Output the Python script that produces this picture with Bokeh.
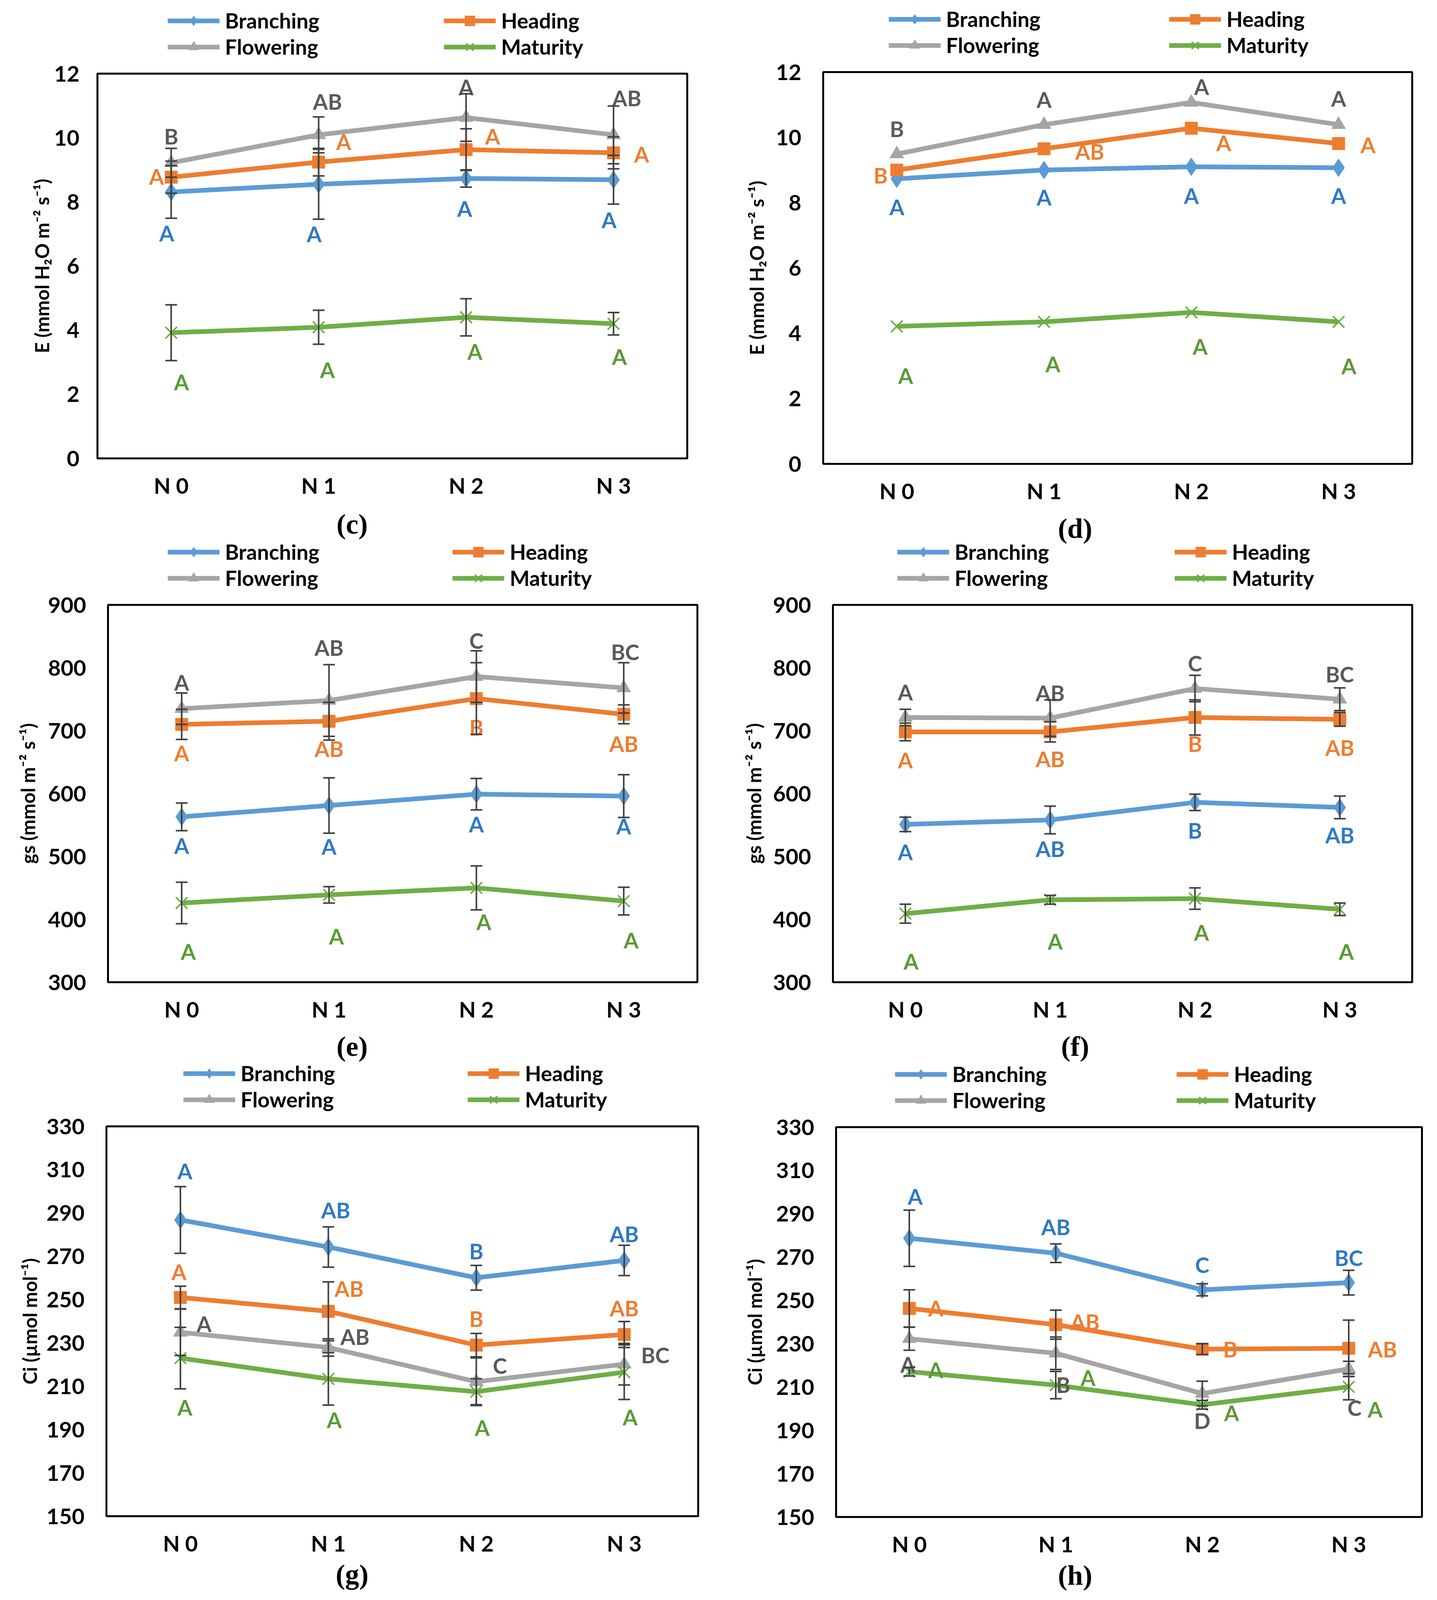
from bokeh.plotting import figure
from bokeh.models import (ColumnDataSource, Whisker, TeeHead, Legend, LegendItem,
                          Label, FixedTicker, Range1d)
from bokeh.layouts import column, row
from bokeh.embed import file_html
from bokeh.resources import INLINE
from bokeh.core.properties import value

# ---------------- data ----------------
categories = ["N 0", "N 1", "N 2", "N 3"]
series_names = ["Branching", "Heading", "Flowering", "Maturity"]

# (c) E, first season
c_branching = [8.31, 8.55, 8.73, 8.69]
c_heading = [8.77, 9.24, 9.63, 9.53]
c_flowering = [9.22, 10.09, 10.63, 10.09]
c_maturity = [3.92, 4.09, 4.40, 4.20]
c_branching_sd = [0.82, 1.09, 0.27, 0.76]
c_heading_sd = [0.50, 0.43, 0.65, 0.50]
c_flowering_sd = [0.45, 0.56, 0.74, 0.90]
c_maturity_sd = [0.87, 0.53, 0.58, 0.35]
c_letters = {"Branching": ["A", "A", "A", "A"], "Heading": ["A", "A", "A", "A"],
             "Flowering": ["B", "AB", "A", "AB"], "Maturity": ["A", "A", "A", "A"]}

# (d) E, second season
d_branching = [8.73, 9.00, 9.10, 9.07]
d_heading = [9.00, 9.65, 10.28, 9.81]
d_flowering = [9.49, 10.39, 11.07, 10.39]
d_maturity = [4.21, 4.35, 4.64, 4.35]
d_letters = {"Branching": ["A", "A", "A", "A"], "Heading": ["B", "AB", "A", "A"],
             "Flowering": ["B", "A", "A", "A"], "Maturity": ["A", "A", "A", "A"]}

# (e) gs, first season
e_branching = [563, 581, 599, 596]
e_heading = [710, 715, 751, 726]
e_flowering = [735, 748, 786, 768]
e_maturity = [426, 439, 450, 429]
e_branching_sd = [22, 44, 25, 34]
e_heading_sd = [24, 30, 57, 15]
e_flowering_sd = [25, 57, 41, 40]
e_maturity_sd = [33, 13, 35, 22]
e_letters = {"Branching": ["A", "A", "A", "A"], "Heading": ["A", "AB", "B", "AB"],
             "Flowering": ["A", "AB", "C", "BC"], "Maturity": ["A", "A", "A", "A"]}

# (f) gs, second season
f_branching = [551, 558, 586, 578]
f_heading = [698, 698, 721, 718]
f_flowering = [721, 720, 767, 750]
f_maturity = [409, 431, 433, 416]
f_branching_sd = [11.5, 22, 13, 18]
f_heading_sd = [14, 16, 28, 11]
f_flowering_sd = [13, 29, 21, 18]
f_maturity_sd = [15, 7, 17, 10]
f_letters = {"Branching": ["A", "AB", "B", "AB"], "Heading": ["A", "AB", "B", "AB"],
             "Flowering": ["A", "AB", "C", "BC"], "Maturity": ["A", "A", "A", "A"]}

# (g) Ci, first season
g_branching = [286.8, 274.3, 260.1, 268.1]
g_heading = [251.0, 244.6, 229.0, 233.9]
g_flowering = [234.9, 227.9, 212.1, 220.2]
g_maturity = [223.0, 213.4, 207.5, 216.5]
g_branching_sd = [15.4, 9.3, 5.7, 7.0]
g_heading_sd = [5.2, 13.6, 5.4, 6.0]
g_flowering_sd = [10.7, 4.0, 11.0, 9.6]
g_maturity_sd = [14.2, 12.1, 6.0, 12.6]
g_letters = {"Branching": ["A", "AB", "B", "AB"], "Heading": ["A", "AB", "B", "AB"],
             "Flowering": ["A", "AB", "C", "BC"], "Maturity": ["A", "A", "A", "A"]}

# (h) Ci, second season
h_branching = [278.7, 271.8, 254.9, 258.2]
h_heading = [246.3, 238.8, 227.5, 227.9]
h_flowering = [232.3, 225.6, 207.0, 218.4]
h_maturity = [217.1, 210.9, 201.8, 210.1]
h_branching_sd = [13.0, 4.3, 2.8, 5.7]
h_heading_sd = [8.6, 6.7, 2.5, 13.0]
h_flowering_sd = [5.3, 7.5, 5.7, 3.5]
h_maturity_sd = [2.0, 6.3, 2.0, 6.0]
h_letters = {"Branching": ["A", "AB", "C", "BC"], "Heading": ["A", "AB", "B", "AB"],
             "Flowering": ["A", "B", "D", "C"], "Maturity": ["A", "A", "A", "A"]}

# ---------------- placement of the significance letters ----------------
c_letter_y = {"Branching": [7.02, 7.0, 7.79, 7.44], "Heading": [8.79, 9.87, 10.04, 9.49],
              "Flowering": [10.04, 11.13, 11.58, 11.24], "Maturity": [2.38, 2.76, 3.33, 3.17]}
c_letter_dx = {"Branching": [-0.03, -0.03, -0.01, -0.03], "Heading": [-0.10, 0.17, 0.18, 0.19],
               "Flowering": [0, 0.06, 0, 0.09], "Maturity": [0.07, 0.06, 0.06, 0.04]}
d_letter_y = {"Branching": [7.87, 8.16, 8.21, 8.21], "Heading": [8.83, 9.57, 9.83, 9.77],
              "Flowering": [10.26, 11.16, 11.55, 11.19], "Maturity": [2.70, 3.06, 3.59, 3.00]}
d_letter_dx = {"Branching": [0, 0, 0, 0], "Heading": [-0.11, 0.31, 0.22, 0.20],
               "Flowering": [0, 0, 0.07, 0], "Maturity": [0.06, 0.06, 0.06, 0.07]}
e_letter_y = {"Branching": [517, 516, 551, 548], "Heading": [664, 671, 705, 679],
              "Flowering": [777, 832, 843, 825], "Maturity": [349, 373, 396, 367]}
e_letter_dx = {"Branching": [0, 0, 0, 0], "Heading": [0, 0, 0, 0],
               "Flowering": [0, 0, 0, 0.01], "Maturity": [0.045, 0.05, 0.05, 0.05]}
f_letter_y = {"Branching": [507, 512, 541, 534], "Heading": [653, 655, 679, 673],
              "Flowering": [761, 760, 807, 790], "Maturity": [333, 365, 379, 349]}
f_letter_dx = {"Branching": [0, 0, 0, 0], "Heading": [0, 0, 0, 0],
               "Flowering": [0, 0, 0, 0], "Maturity": [0.04, 0.035, 0.045, 0.045]}
g_letter_y = {"Branching": [309.3, 291.4, 272.3, 280.3], "Heading": [262.9, 255.1, 241.2, 246.1],
              "Flowering": [238.8, 232.8, 219.6, 224.4], "Maturity": [200.2, 194.5, 190.9, 195.8]}
g_letter_dx = {"Branching": [0.03, 0.05, 0, 0], "Heading": [-0.01, 0.14, 0, 0],
               "Flowering": [0.16, 0.18, 0.16, 0.21], "Maturity": [0.03, 0.04, 0.04, 0.04]}
h_letter_y = {"Branching": [297.9, 283.9, 266.5, 269.7], "Heading": [246.4, 240.1, 227.4, 227.4],
              "Flowering": [220.5, 211.1, 194.5, 200.5], "Maturity": [217.9, 214.3, 198.0, 199.7]}
h_letter_dx = {"Branching": [0.04, 0, 0, 0], "Heading": [0.18, 0.20, 0.19, 0.23],
               "Flowering": [-0.01, 0.05, 0, 0.04], "Maturity": [0.18, 0.22, 0.20, 0.18]}

# ---------------- styles ----------------
FONT = "Lato"
line_colors = {"Branching": "#5B9BD5", "Heading": "#ED7D31", "Flowering": "#A5A5A5", "Maturity": "#70AD47"}
letter_colors = {"Branching": "#2F78C4", "Heading": "#ED7D31", "Flowering": "#595959", "Maturity": "#5A9A36"}
marker_style = {"Branching": ("diamond", 46), "Heading": ("square", 32),
                "Flowering": ("triangle", 36), "Maturity": ("x", 42)}
ERR_COLOR = "#404040"
LINE_W = 12
TOP_PAD = 35          # room above the frame for the top tick label
xs = [1, 2, 3, 4]


def add_series(p, name, x, y):
    lr = p.line(x, y, line_color=line_colors[name], line_width=LINE_W)
    mk, sz = marker_style[name]
    if mk == "x":
        sr = p.scatter(x, y, marker=mk, size=sz, line_color=line_colors[name], line_width=4)
    else:
        sr = p.scatter(x, y, marker=mk, size=sz, fill_color=line_colors[name],
                       line_color=line_colors[name], line_width=1)
    return [lr, sr]


def blank_strip(width, height):
    s = figure(width=width, height=height, output_backend="svg", toolbar_location=None,
               x_range=Range1d(-20, -19), y_range=Range1d(-20, -19),
               x_axis_type=None, y_axis_type=None, min_border=0)
    s.outline_line_color = None
    s.xgrid.visible = False
    s.ygrid.visible = False
    s.background_fill_color = "white"
    s.border_fill_color = "white"
    return s


def make_legend_strip(width, height, vals, vx1, vx2):
    # the same series are drawn here but fall outside this strip's ranges;
    # the strip only shows their legend (its frame is aligned with the plot's frame)
    s = blank_strip(width, height)
    rends = {n: add_series(s, n, xs, vals[n]) for n in series_names}
    for names, vx in ((["Branching", "Flowering"], vx1), (["Heading", "Maturity"], vx2)):
        leg = Legend(items=[LegendItem(label=n, renderers=rends[n]) for n in names],
                     location=(vx, 1), orientation="vertical", glyph_width=133, glyph_height=64,
                     label_height=64, label_standoff=14, spacing=2, padding=0, margin=0,
                     border_line_color=None, background_fill_alpha=0,
                     label_text_font=FONT, label_text_font_style="bold",
                     label_text_font_size="54px", label_text_color="black")
        s.add_layout(leg)
    return s


def make_caption_strip(width, height, text, cx, cy):
    s = blank_strip(width, height)
    s.add_layout(Label(x=cx, y=cy, x_units="screen", y_units="screen", text=text,
                       text_align="center", text_baseline="middle",
                       text_font="Liberation Serif", text_font_style="bold",
                       text_font_size="72px", text_color="black"))
    return s


def make_panel(width, borders, frame_h, legend_h, bottom_axis, caption_h, vals, sds, letters,
               letter_y, letter_dx, yr, yticks, legend_pos, ylabel, tick_standoff,
               ylabel_standoff, caption, caption_pos):
    left, right = borders
    p = figure(width=width, height=TOP_PAD + frame_h + bottom_axis, output_backend="svg",
               toolbar_location=None,
               x_range=Range1d(0.5, 4.5), y_range=Range1d(*yr),
               min_border_left=left, min_border_right=right,
               min_border_top=TOP_PAD, min_border_bottom=bottom_axis)
    p.background_fill_color = "white"
    p.border_fill_color = "white"
    p.outline_line_color = "black"
    p.outline_line_width = 5
    p.xgrid.visible = False
    p.ygrid.visible = False
    for ax in (p.xaxis, p.yaxis):
        ax.axis_line_color = None
        ax.major_tick_line_color = None
        ax.minor_tick_line_color = None
        ax.major_label_text_font = FONT
        ax.major_label_text_font_style = "bold"
        ax.major_label_text_font_size = "56px"
        ax.major_label_text_color = "black"
    p.xaxis.ticker = FixedTicker(ticks=xs)
    p.xaxis.major_label_overrides = {x: c for x, c in zip(xs, categories)}
    p.xaxis.major_label_standoff = 29
    p.yaxis.ticker = FixedTicker(ticks=yticks)
    p.yaxis.major_label_standoff = tick_standoff
    p.yaxis.axis_label = ylabel
    p.yaxis.axis_label_text_font = FONT
    p.yaxis.axis_label_text_font_style = "bold"
    p.yaxis.axis_label_text_font_size = "49px"
    p.yaxis.axis_label_text_color = "black"
    p.yaxis.axis_label_standoff = ylabel_standoff

    for name in series_names:
        v = vals[name]
        if sds is not None:
            sd = sds[name]
            src = ColumnDataSource(dict(x=xs, lower=[a - b for a, b in zip(v, sd)],
                                        upper=[a + b for a, b in zip(v, sd)]))
            w = Whisker(source=src, base="x", lower="lower", upper="upper", dimension="height",
                        line_color=ERR_COLOR, line_width=4, level="glyph",
                        upper_head=TeeHead(size=30, line_color=ERR_COLOR, line_width=4),
                        lower_head=TeeHead(size=30, line_color=ERR_COLOR, line_width=4))
            p.add_layout(w)
        add_series(p, name, xs, v)

    for name in series_names:
        src = ColumnDataSource(dict(x=[a + b for a, b in zip(xs, letter_dx[name])],
                                    y=letter_y[name], t=letters[name]))
        p.text(x="x", y="y", text="t", source=src, text_align="center", text_baseline="middle",
               text_font=value(FONT), text_font_style="bold", text_font_size="55px",
               text_color=letter_colors[name])

    top_strip = make_legend_strip(width, legend_h, vals, *legend_pos)
    bottom_strip = make_caption_strip(width, caption_h, caption, *caption_pos)
    return column(top_strip, p, bottom_strip, spacing=0)


def d4(b, h, f, m):
    return {"Branching": b, "Heading": h, "Flowering": f, "Maturity": m}


E_ticks = [0, 2, 4, 6, 8, 10, 12]
gs_ticks = [300, 400, 500, 600, 700, 800, 900]
ci_ticks = [150, 170, 190, 210, 230, 250, 270, 290, 310, 330]
E_label = "E (mmol H\u2082O m\u207b\u00b2 s\u207b\u00b9)"
gs_label = "gs (mmol m\u207b\u00b2 s\u207b\u00b9)"
ci_label = "Ci (\u00b5mol mol\u207b\u00b9)"

# legend strip height = distance from the panel top to TOP_PAD above the frame
pc = make_panel(1832, (249, 73), 985, 188 - TOP_PAD, 120, 92,
                d4(c_branching, c_heading, c_flowering, c_maturity),
                d4(c_branching_sd, c_heading_sd, c_flowering_sd, c_maturity_sd),
                c_letters, c_letter_y, c_letter_dx, (0, 12), E_ticks,
                (180, 887), E_label, 40, 0, "(c)", (652, 44))
pd = make_panel(1825, (275, 42), 1003, 184 - TOP_PAD, 120, 87,
                d4(d_branching, d_heading, d_flowering, d_maturity), None,
                d_letters, d_letter_y, d_letter_dx, (0, 12), E_ticks,
                (168, 886), E_label, 50, 18, "(d)", (645, 42))
pe = make_panel(1832, (276, 47), 966, 154 - TOP_PAD, 120, 88,
                d4(e_branching, e_heading, e_flowering, e_maturity),
                d4(e_branching_sd, e_heading_sd, e_flowering_sd, e_maturity_sd),
                e_letters, e_letter_y, e_letter_dx, (300, 900), gs_ticks,
                (153, 882), gs_label, 50, 20, "(e)", (625, 44))
pf = make_panel(1825, (300, 42), 966, 154 - TOP_PAD, 120, 88,
                d4(f_branching, f_heading, f_flowering, f_maturity),
                d4(f_branching_sd, f_heading_sd, f_flowering_sd, f_maturity_sd),
                f_letters, f_letter_y, f_letter_dx, (300, 900), gs_ticks,
                (165, 875), gs_label, 50, 17, "(f)", (620, 44))
pg = make_panel(1832, (272, 45), 1003, 161 - TOP_PAD, 100, 92,
                d4(g_branching, g_heading, g_flowering, g_maturity),
                d4(g_branching_sd, g_heading_sd, g_flowering_sd, g_maturity_sd),
                g_letters, g_letter_y, g_letter_dx, (150, 330), ci_ticks,
                (197, 925), ci_label, 50, 11, "(g)", (629, 48))
ph = make_panel(1825, (308, 17), 1003, 163 - TOP_PAD, 100, 92,
                d4(h_branching, h_heading, h_flowering, h_maturity),
                d4(h_branching_sd, h_heading_sd, h_flowering_sd, h_maturity_sd),
                h_letters, h_letter_y, h_letter_dx, (150, 330), ci_ticks,
                (151, 872), ci_label, 50, 23, "(h)", (612, 48))

layout = column(row(pc, pd, spacing=0), row(pe, pf, spacing=0), row(pg, ph, spacing=0), spacing=0)
open("out.html", "w").write(file_html(layout, INLINE))
